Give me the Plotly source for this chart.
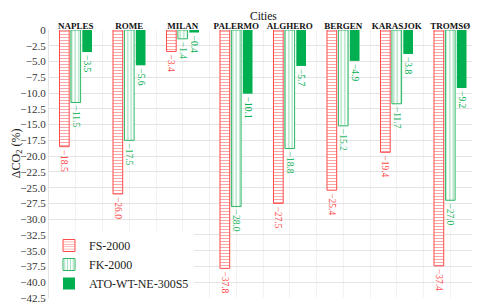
import plotly.graph_objects as go

cities = ["NAPLES", "ROME", "MILAN", "PALERMO", "ALGHERO", "BERGEN", "KARASJOK", "TROMSØ"]
fs_2000 = [-18.5, -26.0, -3.4, -37.8, -27.5, -25.4, -19.4, -37.4]
fk_2000 = [-11.5, -17.5, -1.4, -28.0, -18.8, -15.2, -11.7, -27.0]
ato = [-3.5, -5.6, -0.4, -10.1, -5.7, -4.9, -3.8, -9.2]
y_ticks = [0, -2.5, -5, -7.5, -10, -12.5, -15, -17.5, -20, -22.5, -25, -27.5,
           -30, -32.5, -35, -37.5, -40, -42.5]

RED = "#FF4B4B"
GREEN_L = "#2DB866"
GREEN = "#00B050"
FONT = "Liberation Serif"

def lab(vals):
    return [f"{v:.1f}".replace("-", "\u2212") for v in vals]

def ytl(v):
    return "0" if v == 0 else f"{v:.1f}".replace("-", "\u2212")

x = list(range(len(cities)))
fig = go.Figure()
common = dict(textposition="outside", textangle=90, cliponaxis=False, constraintext="none")
fig.add_bar(x=x, y=fs_2000, name="FS-2000", text=lab(fs_2000),
            textfont=dict(color=RED, size=9.5, family=FONT),
            marker=dict(color="white", line=dict(color=RED, width=1),
                        pattern=dict(shape="-", fgcolor=RED, bgcolor="white",
                                     size=3, solidity=0.35)), **common)
fig.add_bar(x=x, y=fk_2000, name="FK-2000", text=lab(fk_2000),
            textfont=dict(color=GREEN_L, size=9.5, family=FONT),
            marker=dict(color="white", line=dict(color=GREEN_L, width=1),
                        pattern=dict(shape="|", fgcolor=GREEN_L, bgcolor="white",
                                     size=3.5, solidity=0.3)), **common)
fig.add_bar(x=x, y=ato, name="ATO-WT-NE-300S5", text=lab(ato),
            textfont=dict(color=GREEN, size=9.5, family=FONT),
            marker=dict(color=GREEN, line=dict(width=0)), **common)

fig.update_layout(
    width=472, height=300,
    margin=dict(l=41, r=3, t=22, b=10, autoexpand=False),
    paper_bgcolor="white", plot_bgcolor="white",
    barmode="group", bargap=0.36, bargroupgap=0.15,
    uniformtext=dict(minsize=9, mode="show"),
    font=dict(family=FONT, size=11, color="#222"),
    legend=dict(x=0.0, y=0.0, xanchor="left", yanchor="bottom",
                bgcolor="white", font=dict(size=12, family=FONT, color="#222"),
                tracegroupgap=0, itemwidth=30, traceorder="normal"),
    showlegend=True,
)
fig.update_xaxes(
    side="top", range=[-0.5, len(cities) - 0.5], automargin=False,
    tickvals=x, ticktext=[f"<b>{c}</b>" for c in cities], tickangle=0,
    tickfont=dict(size=9, family=FONT, color="#111"), ticks="",
    ticklabelstandoff=-2,
    showgrid=True, gridcolor="#F2F2F2", gridwidth=1,
    minor=dict(tick0=-0.5, dtick=1, showgrid=True, gridcolor="#F2F2F2", gridwidth=1),
    zeroline=False, showline=False,
)
fig.update_yaxes(
    range=[-42.5, 0], tickvals=y_ticks, ticktext=[ytl(v) for v in y_ticks],
    automargin=False,
    tickfont=dict(size=11, family=FONT, color="#333"),
    showgrid=True, gridcolor="#E4E4E4", gridwidth=1,
    zeroline=False, showline=True, linecolor="#E4E4E4", mirror=False,
    ticks="",
)
fig.add_annotation(text="Cities", xref="paper", yref="paper", x=0.5, y=1.0,
                   yshift=22, yanchor="top", showarrow=False,
                   font=dict(size=11.5, family=FONT, color="#111"))
fig.add_annotation(text="ΔCO<sub>2</sub> (%)", xref="paper", yref="paper",
                   x=-0.075, y=0.54, xanchor="center", textangle=-90, showarrow=False,
                   font=dict(size=12, family=FONT, color="#222"))
fig.write_html("out.html")
